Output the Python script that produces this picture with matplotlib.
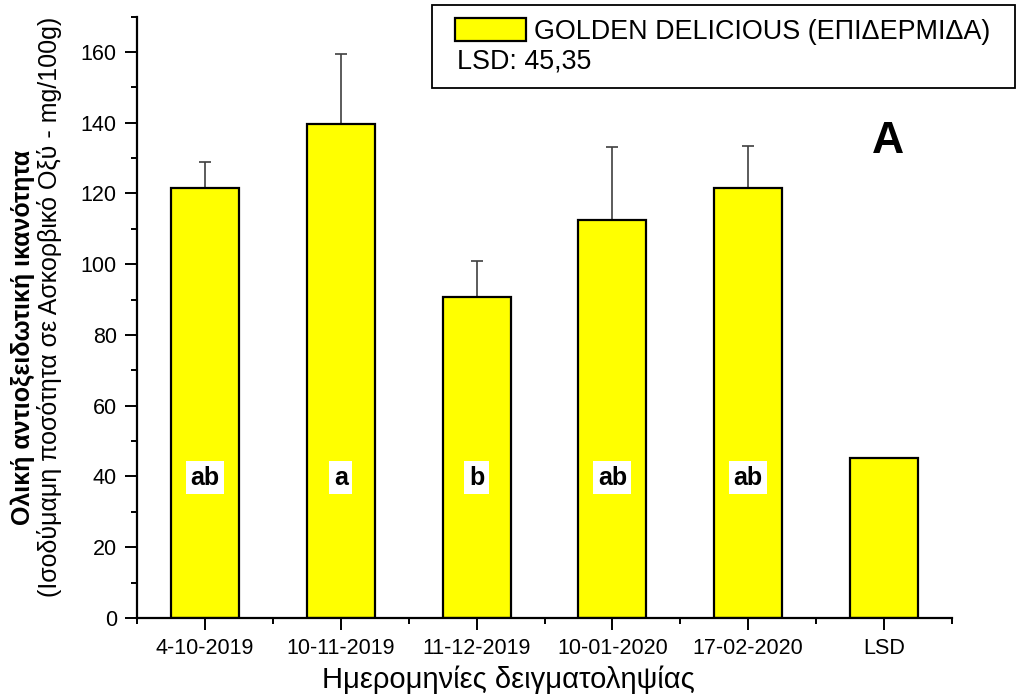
import numpy as np
import matplotlib.pyplot as plt
from matplotlib.patches import Rectangle
from matplotlib.ticker import MultipleLocator, FixedLocator

plt.rcParams['font.family'] = ['Liberation Sans', 'DejaVu Sans']

# data
dates = ['4-10-2019', '10-11-2019', '11-12-2019', '10-01-2020', '17-02-2020', 'LSD']
values = [121.5, 139.5, 90.8, 112.5, 121.5, 45.35]
err_up = [7.4, 19.8, 10.2, 20.6, 12.0]
groups = ['ab', 'a', 'b', 'ab', 'ab']
legend_label = 'GOLDEN DELICIOUS (ΕΠΙΔΕΡΜΙΔΑ)'
lsd_text = 'LSD: 45,35'

fig = plt.figure(figsize=(10.3, 6.95), dpi=100)
ax = fig.add_axes([137/1030, 77/695, 815/1030, 601.5/695])

x = np.arange(1, len(dates) + 1)
bars = ax.bar(x, values, width=0.5, color='#ffff00', edgecolor='black',
              linewidth=1.6, zorder=2)
n = len(err_up)
ax.errorbar(x[:n], values[:n], yerr=[np.zeros(n), err_up], fmt='none',
            ecolor='#404040', elinewidth=1.2, capsize=4.3, capthick=1.2, zorder=1)

for xi, g in zip(x, groups):
    ax.text(xi, 39.6, g, ha='center', va='center', fontsize=18, fontweight='bold',
            zorder=4, bbox=dict(fc='white', ec='none', boxstyle='square,pad=0.18'))

ax.text(6.03, 134.8, 'A', ha='center', va='center', fontsize=32, fontweight='bold')

ax.set_xlim(0.5, 6.5)
ax.set_ylim(0, 170)
ax.set_xticks(x)
ax.set_xticklabels(dates)
ax.xaxis.set_minor_locator(FixedLocator(np.arange(0.5, 7, 1)))
ax.yaxis.set_major_locator(MultipleLocator(20))
ax.yaxis.set_minor_locator(MultipleLocator(10))
ax.tick_params(which='major', length=8.5, width=1.4, labelsize=15.5, pad=6)
ax.tick_params(which='minor', length=4, width=1.4)
for s in ['top', 'right']:
    ax.spines[s].set_visible(False)
for s in ['left', 'bottom']:
    ax.spines[s].set_linewidth(1.6)

fig.text(23/1030, 1 - 337/695, 'Ολική αντιοξειδωτική ικανότητα', rotation=90,
         ha='center', va='center', fontsize=18, fontweight='bold')
fig.text(50/1030, 1 - 307/695, '(Ισοδύμαμη ποσότητα σε Ασκορβικό Οξύ - mg/100g)',
         rotation=90, ha='center', va='center', fontsize=18)
fig.text(508/1030, 1 - 680/695, 'Ημερομηνίες δειγματοληψίας', ha='center',
         va='center', fontsize=21)

# legend block
fig.legend([bars], [legend_label], loc='upper left',
           bbox_to_anchor=(455/1030, 1 - 18/695), frameon=False, fontsize=19.4,
           handlelength=2.65, handleheight=0.95, handletextpad=0.3, borderpad=0,
           borderaxespad=0)
fig.text(457/1030, 1 - 62/695, lsd_text, ha='left', va='center', fontsize=19.4)
fig.add_artist(Rectangle((432/1030, 1 - 88/695), 583/1030, 83/695,
                         transform=fig.transFigure, fill=False, lw=1.3,
                         ec='black'))

fig.savefig('out.png', dpi=100)
